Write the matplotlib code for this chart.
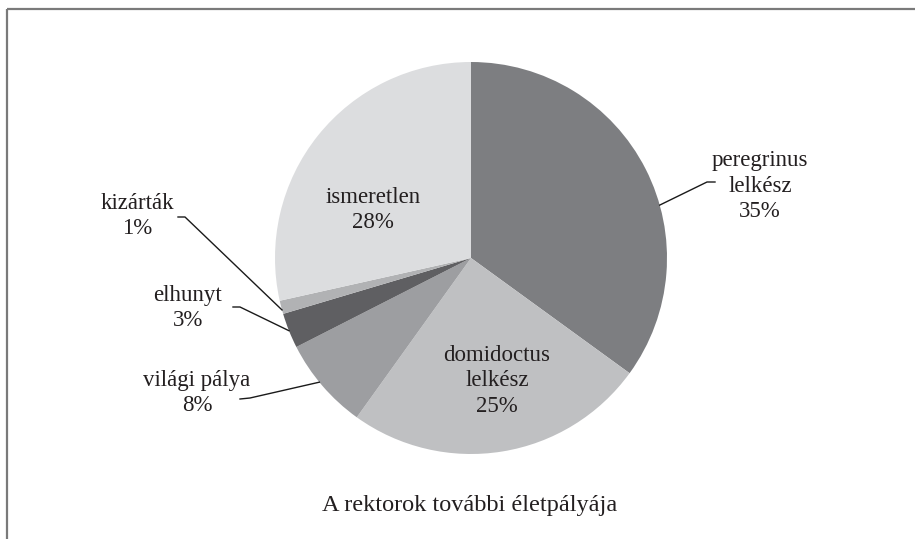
"""
A rektorok további életpályája - kördiagram
"""

import numpy as np
import matplotlib.pyplot as plt

# adatok
categories = ['peregrinus\nlelkész', 'domidoctus\nlelkész', 'világi pálya',
              'elhunyt', 'kizárták', 'ismeretlen']
shares = [35.0, 24.9, 7.6, 2.9, 1.1, 28.5]
pct_labels = ['35%', '25%', '8%', '3%', '1%', '28%']
colors = ['#7d7e81', '#bfc0c2', '#9d9ea1', '#5f5f62', '#b1b2b4', '#dcdddf']

plt.rcParams['font.family'] = ['Liberation Serif', 'DejaVu Serif']
txt_color = '#231f20'

W, H = 915, 539
fig = plt.figure(figsize=(W / 100, H / 100), dpi=100)
ax = fig.add_axes([0, 0, 1, 1])

cx, cy, r = 471, H - 258, 196
wedges, _ = ax.pie(shares, colors=colors, startangle=90, counterclock=False,
                   center=(cx, cy), radius=r, wedgeprops=dict(linewidth=0))

ax.set_xlim(0, W)
ax.set_ylim(0, H)
ax.set_aspect('equal')
ax.axis('off')

# keret (felső és bal oldali vonal)
ax.plot([7, W], [H - 9, H - 9], color='#7a7a7a', lw=1.6, solid_capstyle='butt')
ax.plot([7, 7], [H - 9, 0], color='#7a7a7a', lw=1.6, solid_capstyle='butt')

fs = 16.5
ls = 1.3
# feliratok a szeletekben
inside = {1: (497, 381), 5: (373, 210)}
for i, (x, y) in inside.items():
    ax.text(x, H - y, categories[i] + '\n' + pct_labels[i], ha='center', va='center',
            fontsize=fs, color=txt_color, linespacing=ls)

# külső feliratok vezető vonallal: szöveg közép, vonal vége, anchor arány a szeleten belül
outside = {
    0: ((760, 186), [(715, 182), (707, 182)], 0.41),
    2: ((197, 393), [(240, 399), (250, 398)], 0.45),
    3: ((188, 308), [(233, 307), (240, 307)], 0.5),
    4: ((137, 216), [(178, 217), (185, 217)], 0.7),
}
for i, ((x, y), tail, frac) in outside.items():
    ax.text(x, H - y, categories[i] + '\n' + pct_labels[i], ha='center', va='center',
            fontsize=fs, color=txt_color, linespacing=ls)
    w = wedges[i]
    ang = np.deg2rad(w.theta1 + frac * (w.theta2 - w.theta1))
    px, py = cx + r * np.cos(ang), cy + r * np.sin(ang)
    xs = [p[0] for p in tail] + [px]
    ys = [H - p[1] for p in tail] + [py]
    ax.plot(xs, ys, color='#1a1a1a', lw=1.0)

# cím
ax.text(470, H - 505, 'A rektorok további életpályája', ha='center', va='center',
        fontsize=17.5, color=txt_color)

fig.savefig('out.png', dpi=100)
